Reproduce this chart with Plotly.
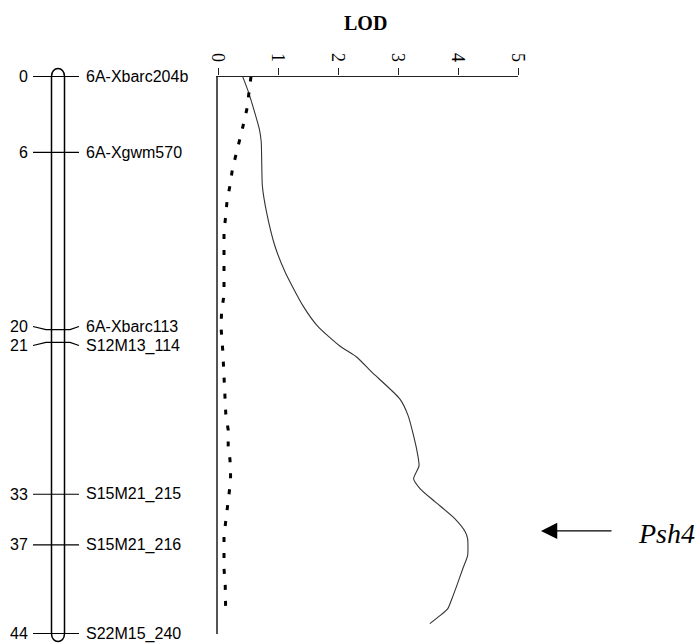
import plotly.graph_objects as go

# ---------------- data ----------------
marker_cm = [0, 6, 20, 21, 33, 37, 44]
marker_label_cm = [0, 6, 19.75, 21.25, 33, 37, 44]   # label rows (spread where crowded)
marker_names = ["6A-Xbarc204b", "6A-Xgwm570", "6A-Xbarc113", "S12M13_114",
                "S15M21_215", "S15M21_216", "S22M15_240"]
marker_pos_text = ["0", "6", "20", "21", "33", "37", "44"]

solid_cm = [0, 0.24, 1.26, 4.18, 5.13, 8.68, 10.73, 13.41, 15.46, 18.14, 19.72, 21.29,
            22.16, 23.34, 25.47, 26.81, 29.42, 30.76, 31.78, 32.57, 33.6, 34.94,
            35.96, 36.51, 37.85, 38.88, 40.22, 41.24, 42.03, 42.59, 43.22]
solid_lod = [0.41, 0.43, 0.51, 0.69, 0.72, 0.74, 0.81, 0.95, 1.12, 1.42, 1.66, 2.03,
             2.31, 2.56, 3.03, 3.17, 3.31, 3.35, 3.26, 3.37, 3.62, 3.95,
             4.12, 4.16, 4.16, 4.08, 3.98, 3.90, 3.83, 3.70, 3.53]

dot_cm = [0, 1.26, 2.6, 3.86, 5.05, 6.0, 7.33, 8.6, 9.86, 10.96, 12.22, 13.49, 14.83,
          16.01, 17.27, 18.53, 19.8, 21.69, 22.95, 24.21, 25.39, 26.66, 27.92, 29.18,
          30.28, 31.55, 32.33, 33.6, 34.86, 36.28, 37.62, 38.88, 40.14, 41.32, 42.59]
dot_lod = [0.55, 0.52, 0.48, 0.42, 0.36, 0.31, 0.24, 0.20, 0.15, 0.13, 0.10, 0.10, 0.10,
           0.10, 0.10, 0.06, 0.05, 0.08, 0.09, 0.10, 0.12, 0.13, 0.17, 0.17,
           0.20, 0.21, 0.20, 0.17, 0.13, 0.10, 0.10, 0.10, 0.12, 0.12, 0.13]

lod_ticks = [0, 1, 2, 3, 4, 5]
qtl_name = "Psh4"
qtl_cm = 35.9

# ---------------- layout geometry ----------------
W, H = 698, 643
def px(x):
    return x / W
def py(y):
    return 1 - y / H

Y_TOP, Y_BOT = 76.5, 633.5
CM_LEN = 44.0
SCALE = (Y_BOT - Y_TOP) / CM_LEN          # pixels per cM
X0, X5 = 218, 518

# map panel gets a taller y axis with the same cM scale so the rounded ends fit
MAP_TOP_PX, MAP_BOT_PX = 60, 643
map_range = [(MAP_BOT_PX - Y_TOP) / SCALE, (MAP_TOP_PX - Y_TOP) / SCALE]

fig = go.Figure()

# LOD curves
fig.add_trace(go.Scatter(x=solid_lod, y=solid_cm, mode="lines",
                         line=dict(color="#333333", width=1.1, shape="spline", smoothing=0.6),
                         hoverinfo="skip", showlegend=False))
fig.add_trace(go.Scatter(x=dot_lod, y=dot_cm, mode="lines",
                         line=dict(color="black", width=3, dash="5px,11px"),
                         hoverinfo="skip", showlegend=False))
# invisible trace for the linkage-map axes
fig.add_trace(go.Scatter(x=[0, 218], y=[0, 44], xaxis="x2", yaxis="y2", mode="markers",
                         marker=dict(opacity=0), hoverinfo="skip", showlegend=False))

shapes = []
# chromosome body with rounded ends (x2 units = pixels, y in cM)
cl, cr = 51.5, 64.5
cap = 0.84
path = (f"M {cl},0 L {cl},44 C {cl},{44+cap} {cr},{44+cap} {cr},44 "
        f"L {cr},0 C {cr},{-cap} {cl},{-cap} {cl},0 Z")
shapes.append(dict(type="path", xref="x2", yref="y2", path=path,
                   line=dict(color="black", width=1.5)))

annotations = []
for cm, lcm, name, t in zip(marker_cm, marker_label_cm, marker_names, marker_pos_text):
    # line across chromosome plus bent connectors to label rows
    p = (f"M 33,{lcm} L 46,{cm} L 70,{cm} L 79,{lcm}")
    shapes.append(dict(type="path", xref="x2", yref="y2", path=p,
                       line=dict(color="black", width=1.2)))
    annotations.append(dict(x=30, y=lcm, xref="x2", yref="y2", text=t, showarrow=False,
                            xanchor="right", yanchor="middle",
                            font=dict(family="Liberation Sans, Arial", size=16, color="black")))
    annotations.append(dict(x=84, y=lcm, xref="x2", yref="y2", text=name, showarrow=False,
                            xanchor="left", yanchor="middle",
                            font=dict(family="Liberation Sans, Arial", size=16, color="black")))

# LOD title
annotations.append(dict(x=px(366), y=py(23), xref="paper", yref="paper", text="<b>LOD</b>",
                        showarrow=False, xanchor="center", yanchor="middle",
                        font=dict(family="Liberation Serif, Times New Roman", size=20, color="black")))
# QTL arrow and name
annotations.append(dict(x=px(541), y=qtl_cm, xref="paper", yref="y", text="",
                        showarrow=True, ax=72, ay=0, arrowhead=2, arrowsize=2.5,
                        arrowwidth=1.3, arrowcolor="black", standoff=0))
annotations.append(dict(x=px(636), y=qtl_cm + 0.2, xref="paper", yref="y",
                        text=f"<i>{qtl_name}</i>",
                        showarrow=False, xanchor="left", yanchor="middle",
                        font=dict(family="Liberation Serif, Times New Roman", size=28, color="black")))

fig.update_layout(
    template="none",
    width=W, height=H, margin=dict(l=0, r=0, t=0, b=0, pad=0, autoexpand=False),
    paper_bgcolor="white", plot_bgcolor="white",
    shapes=shapes, annotations=annotations,
    xaxis=dict(domain=[px(X0), px(X5)], range=[0, 5], side="top", anchor="y",
               automargin=False,
               tickvals=lod_ticks, ticktext=[str(v) for v in lod_ticks],
               ticks="outside", ticklen=7, tickwidth=1.2, tickcolor="#222222",
               tickangle=90, showline=True, linecolor="#222222", linewidth=1.2,
               showgrid=False, zeroline=False,
               tickfont=dict(family="Liberation Serif, Times New Roman", size=18, color="black")),
    yaxis=dict(domain=[py(Y_BOT), py(Y_TOP)], range=[CM_LEN, 0], showline=True,
               automargin=False,
               linecolor="#555555", linewidth=1.5, showticklabels=False, ticks="",
               showgrid=False, zeroline=False),
    xaxis2=dict(domain=[0, px(X0)], range=[0, 218], anchor="y2", visible=False,
                automargin=False, showgrid=False, zeroline=False),
    yaxis2=dict(domain=[py(MAP_BOT_PX), py(MAP_TOP_PX)], range=map_range, anchor="x2",
                visible=False, automargin=False, showgrid=False, zeroline=False),
)

fig.write_html("out.html", config={"displayModeBar": False},
               post_script="document.body.style.margin='0';document.body.style.overflow='hidden';")
